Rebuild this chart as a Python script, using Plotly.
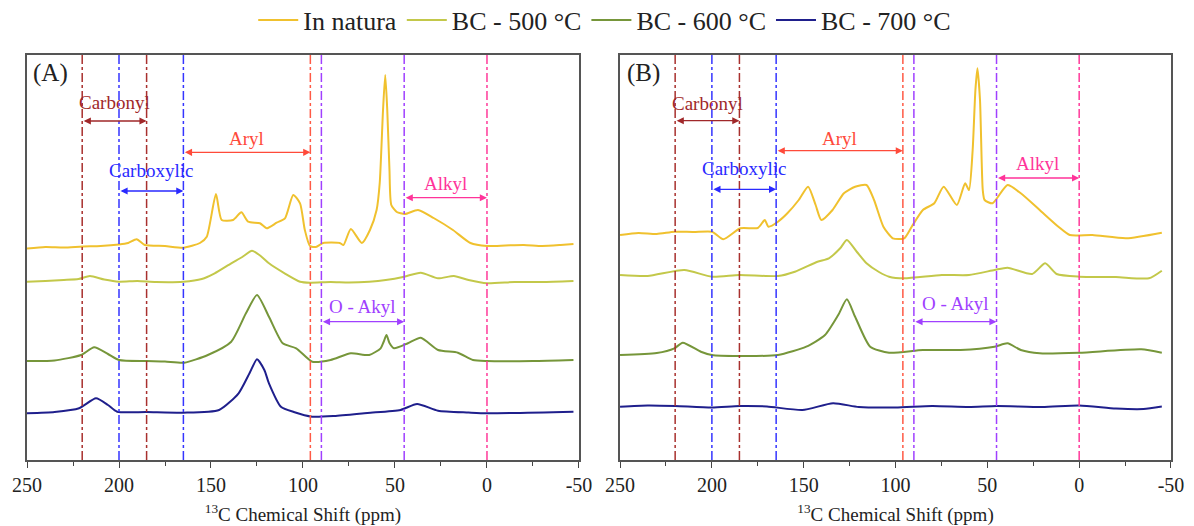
import plotly.graph_objects as go
from plotly.subplots import make_subplots

# ---------------- data (ppm, stacked intensity, arbitrary units) ----------------
series_names = ["In natura", "BC - 500 °C", "BC - 600 °C", "BC - 700 °C"]
series_colors = ["#F0C12E", "#C3C84A", "#76963A", "#1F1F8C"]

# Panel A
a_natura_ppm = [250, 240, 230, 220, 210, 200, 195, 190.4, 186, 175, 165, 156, 152.3, 147.3, 144.2, 138, 133.5, 129.8, 123.4, 119.7, 114.3, 109.8, 105.3, 101.6, 99, 96.2, 93, 89, 80, 78, 74, 68, 63.6, 60, 58.3, 56.5, 55.3, 54.2, 53, 52, 49, 44.6, 37.5, 29, 18.5, 9, 0, -10, -20, -30, -40, -47]
a_natura_val = [211.5, 213, 212.5, 213.5, 214, 215.5, 217, 220.7, 215, 214, 212.3, 217, 223.3, 266, 240, 240, 247.7, 238.3, 236.7, 231.7, 237.3, 241.7, 265, 256.7, 230, 214, 213, 217, 217, 215, 231, 217, 230, 250, 277, 350, 385, 350, 290, 255, 248, 246, 250, 242, 230, 217, 214, 214.5, 215, 214, 215, 216]

a_500_ppm = [250, 240, 230, 222, 215.8, 208, 200, 190, 180, 165, 155, 148, 139, 133, 127.7, 123, 118.5, 110, 101.6, 96, 85, 75, 64, 55, 45, 36, 26.6, 18, 10, 0, -15, -30, -47]
a_500_val = [178.3, 179, 180, 181, 184, 180.5, 178.3, 179, 178, 178.3, 181, 186.7, 196.7, 203, 209.3, 204, 196.7, 186.7, 178.3, 177.3, 178, 177.5, 178.3, 180, 183.3, 187.3, 181.7, 184, 180, 176.7, 178, 178, 179]

a_600_ppm = [250, 235, 220.6, 213.5, 206, 200, 185, 175, 164.5, 151.7, 139, 131, 125, 118.5, 111, 103.7, 95, 85, 74, 64, 57.8, 56.2, 54.6, 53, 50.5, 43, 36, 26.6, 15.8, 7.6, 0, -25, -47]
a_600_val = [99, 99.5, 105, 112.7, 106, 100, 99, 98.5, 97.3, 105, 118.3, 146.7, 165, 143.3, 116.7, 111.7, 98.3, 100, 106.7, 105, 111.7, 118, 125, 117, 111.7, 116.7, 122.3, 110, 107.3, 100, 99, 99, 100]

a_700_ppm = [250, 235, 221.7, 212.5, 206, 201, 185, 165, 145.6, 135, 129, 125, 121, 118.5, 112, 105, 95, 83, 65, 47, 38, 26.6, 10, 0, -47]
a_700_val = [46.7, 48, 51.7, 61.7, 55, 48.3, 48, 47.3, 50, 66.7, 87, 100.7, 90, 76.7, 53.3, 48, 43.3, 44, 47, 50, 56, 49.3, 47.5, 46.7, 48.3]

# Panel B
b_natura_ppm = [250, 240, 230, 220.4, 210, 199.9, 193.8, 184.5, 175, 171.2, 169.2, 164, 158.9, 152.7, 147.6, 143.5, 140.4, 134.3, 128.1, 122, 115.8, 111.7, 106.6, 101.5, 95.3, 91.2, 85.1, 78.9, 73.8, 66.6, 62.1, 60, 58, 56.5, 55.4, 54, 52.5, 51.5, 47.2, 39, 31.8, 21.5, 11.3, 5.1, -7.2, -25.6, -45]
b_natura_val = [225, 227, 226, 228.3, 228, 228.3, 220.7, 231.7, 232, 240, 233.3, 238.3, 246.7, 260, 273.3, 255, 240, 250, 266.7, 273.3, 275, 260, 233.3, 221.7, 221.7, 233.3, 250, 256.7, 273.3, 255, 276.7, 270, 310, 370, 391.7, 360, 270, 260, 256.7, 275, 266.7, 250, 233.3, 225, 225, 221.7, 227.3]

b_500_ppm = [250, 235, 215, 200, 185, 164, 154.8, 142.5, 136.3, 130, 126.5, 121, 115.8, 109, 103.5, 95.3, 74.8, 60, 46.1, 39, 25.6, 18.5, 12.3, 0, -20, -38, -45]
b_500_val = [185, 184, 190, 183.3, 185, 184, 188.3, 198.3, 201.7, 212, 220, 208, 196.7, 188, 183.3, 181.7, 185, 185, 190, 192.3, 186, 196.7, 186, 183.3, 183, 181.7, 189.3]

b_600_ppm = [250, 230, 220.4, 215.9, 206, 200, 185.6, 164, 148.6, 138.4, 131.2, 126.5, 122, 113.8, 103.5, 85.1, 64.6, 46.1, 39, 31.8, 21.5, 0, -33.8, -45]
b_600_val = [105, 107, 111.7, 117.3, 108.3, 105, 104, 105, 113.3, 125, 145, 160.7, 143.3, 113.3, 107.3, 110, 110, 113.3, 116.7, 110, 106.7, 107.3, 110.7, 107.3]

b_700_ppm = [250, 235, 220, 200, 185, 170, 150.7, 134, 120, 100, 80, 60, 45, 20, 0, -20, -35, -45]
b_700_val = [53.3, 54.5, 54, 52.5, 54, 53.5, 50, 56.7, 53, 52.5, 54, 53, 54, 53, 54.5, 51.5, 51, 53.5]

panel_a = [(a_natura_ppm, a_natura_val), (a_500_ppm, a_500_val), (a_600_ppm, a_600_val), (a_700_ppm, a_700_val)]
panel_b = [(b_natura_ppm, b_natura_val), (b_500_ppm, b_500_val), (b_600_ppm, b_600_val), (b_700_ppm, b_700_val)]

# region boundaries (ppm) and colours
boundary_ppm = [220, 200, 185, 165, 96, 90, 45, 0]
boundary_colors = ["#A8302E", "#3535FF", "#A8302E", "#3535FF", "#FF5A45", "#A040FF", "#A040FF", "#FF3A9A"]

# region labels: name, from ppm, to ppm, text height A, arrow height A, text height B, arrow height B, colour
regions = [
    ("Carbonyl", 220, 185, 357.3, 339.0, 356.7, 339.3, "#A0282A"),
    ("Aryl", 165, 96, 322.0, 307.7, 321.7, 309.3, "#FF4A3A"),
    ("Carboxylic", 200, 165, 289.3, 269.0, 291.7, 270.7, "#2A2AFF"),
    ("Alkyl", 45, 0, 276.7, 262.3, 296.7, 282.0, "#FF3399"),
    ("O - Akyl", 90, 45, 154.0, 138.3, 156.7, 138.3, "#A040FF"),
]
panel_labels = ["(A)", "(B)"]
x_ticks = [250, 200, 150, 100, 50, 0, -50]
x_tick_text = ["250", "200", "150", "100", "50", "0", "-50"]

# ---------------- figure ----------------
FONT = "Liberation Serif"
fig = make_subplots(rows=1, cols=2)

for col, panel in ((1, panel_a), (2, panel_b)):
    for i, (xs, ys) in enumerate(panel):
        fig.add_trace(go.Scatter(
            x=xs, y=ys, mode="lines", name=series_names[i],
            line=dict(color=series_colors[i], width=2, shape="spline", smoothing=0.6),
            showlegend=(col == 1), legendrank=i + 1,
        ), row=1, col=col)

for col in (1, 2):
    xref = "x" if col == 1 else "x2"
    yref = "y" if col == 1 else "y2"
    for p, c in zip(boundary_ppm, boundary_colors):
        fig.add_shape(type="line", xref=xref, yref=yref + " domain", x0=p, x1=p, y0=0, y1=1,
                      line=dict(color=c, width=1.5, dash="dashdot"))
    for name, p0, p1, ta, aa, tb, ab, c in regions:
        ty = ta if col == 1 else tb
        ay = aa if col == 1 else ab
        fig.add_annotation(xref=xref, yref=yref, x=(p0 + p1) / 2, y=ty, text=name,
                           showarrow=False, font=dict(family=FONT, size=19, color=c))
        fig.add_annotation(xref=xref, yref=yref, x=p1, y=ay, ax=p0, ay=ay,
                           axref=xref, ayref=yref, text="", showarrow=True,
                           arrowhead=2, arrowside="end+start", arrowsize=1.1,
                           arrowwidth=1.3, arrowcolor=c, standoff=0, startstandoff=0)
    fig.add_annotation(xref=xref, yref=yref, x=237.5, y=387, text=panel_labels[col - 1],
                       showarrow=False, font=dict(family=FONT, size=25, color="#222"))

axis_common = dict(
    range=[250, -50], tickvals=x_ticks, ticktext=x_tick_text, ticks="outside", ticklen=6, tickwidth=1.3,
    tickcolor="#444", showline=True, linecolor="#555", linewidth=1.5, mirror=True,
    showgrid=False, zeroline=False, tickfont=dict(family=FONT, size=20, color="#222"),
    minor=dict(dtick=25, ticks="outside", ticklen=4, tickcolor="#444", tickwidth=1.2),
    title=dict(text="<sup>13</sup>C Chemical Shift (ppm)", font=dict(family=FONT, size=19, color="#222"), standoff=13),
)
yaxis_common = dict(range=[0, 405], showticklabels=False, ticks="", showline=True,
                    linecolor="#555", linewidth=1.5, mirror=True, showgrid=False, zeroline=False)

fig.update_layout(
    width=1194, height=526,
    margin=dict(l=27, r=23, t=55, b=66, autoexpand=False),
    paper_bgcolor="white", plot_bgcolor="white",
    xaxis=dict(domain=[0, 0.4825], **axis_common),
    xaxis2=dict(domain=[0.5184, 1.0], **axis_common),
    yaxis=dict(**yaxis_common),
    yaxis2=dict(**yaxis_common),
    legend=dict(orientation="h", x=0.505, xanchor="center", yref="container", y=0.962, yanchor="middle",
                font=dict(family=FONT, size=26, color="#222"), itemwidth=40,
                bgcolor="rgba(0,0,0,0)", tracegroupgap=0),
    font=dict(family=FONT),
)

fig.write_html("out.html")
